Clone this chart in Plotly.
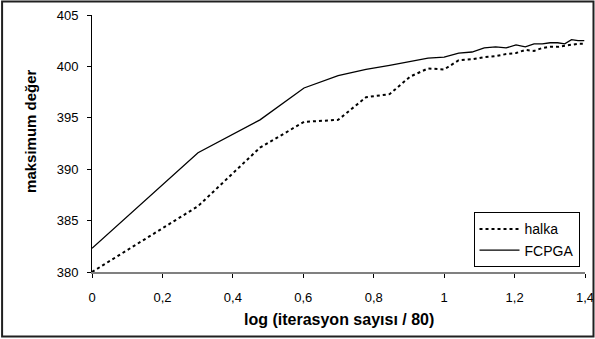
import math
import plotly.graph_objects as go

# iteration index k = 1..25, x = log10(k)
iter_index = list(range(1, 26))
x_vals = [math.log10(k) for k in iter_index]

halka = [380.0, 386.4, 392.1, 394.6, 394.8, 397.0, 397.3, 399.0, 399.8, 399.7,
         400.6, 400.7, 400.9, 401.0, 401.2, 401.3, 401.6, 401.5, 401.8, 401.9,
         401.9, 402.0, 402.1, 402.2, 402.2]
fcpga = [382.3, 391.6, 394.8, 397.9, 399.1, 399.7, 400.1, 400.5, 400.8, 400.9,
         401.3, 401.4, 401.8, 401.9, 401.8, 402.1, 401.9, 402.2, 402.2, 402.3,
         402.3, 402.2, 402.6, 402.5, 402.5]

x_ticks = [0, 0.2, 0.4, 0.6, 0.8, 1.0, 1.2, 1.4]
x_ticklabels = ["0", "0,2", "0,4", "0,6", "0,8", "1", "1,2", "1,4"]
y_ticks = [380, 385, 390, 395, 400, 405]
y_ticklabels = ["380", "385", "390", "395", "400", "405"]

FONT = "Liberation Sans, Arial, sans-serif"

fig = go.Figure()
fig.add_trace(go.Scatter(x=x_vals, y=halka, mode="lines", name="halka",
                         line=dict(color="black", width=2, dash="dot")))
fig.add_trace(go.Scatter(x=x_vals, y=fcpga, mode="lines", name="FCPGA",
                         line=dict(color="black", width=1.3)))

L, R, T, B = 91.5, 10, 15, 66.7
W, H = 595, 339
pw = W - L - R
ph = H - T - B

def px(xp):
    return (xp - L) / pw

def py(yp):
    return (H - B - yp) / ph

fig.update_layout(
    width=W, height=H, autosize=False,
    margin=dict(l=L, r=R, t=T, b=B, pad=0, autoexpand=False),
    paper_bgcolor="white", plot_bgcolor="white",
    font=dict(family=FONT, color="black", size=13),
    showlegend=True,
    legend=dict(x=px(579.5), y=py(267.7), xanchor="right", yanchor="bottom",
                bgcolor="white", bordercolor="black", borderwidth=1,
                font=dict(size=14, family=FONT), itemwidth=40,
                tracegroupgap=0),
    xaxis=dict(range=[0, 1.4], tickvals=x_ticks, ticktext=x_ticklabels,
               showgrid=False, zeroline=False, showline=True, automargin=False,
               linecolor="#808080", linewidth=2, ticks="outside",
               ticklen=4, tickcolor="black", tickwidth=1,
               tickfont=dict(size=13), ticklabelstandoff=8,
               ticklabeloverflow="allow"),
    yaxis=dict(range=[380, 405], tickvals=y_ticks, ticktext=y_ticklabels,
               showgrid=False, zeroline=False, showline=True, automargin=False,
               linecolor="black", linewidth=1, ticks="outside",
               ticklen=4, tickcolor="black", tickwidth=1,
               tickfont=dict(size=13), ticklabelstandoff=6),
    annotations=[
        dict(text="<b>log (iterasyon sayısı / 80)</b>", xref="paper", yref="paper",
             x=0.5, y=py(320), xanchor="center", yanchor="middle",
             showarrow=False, font=dict(size=16, family=FONT)),
        dict(text="<b>maksimum değer</b>", xref="paper", yref="paper",
             x=px(30), y=py(131.5), xanchor="center", yanchor="middle",
             textangle=-90, showarrow=False, font=dict(size=15, family=FONT)),
    ],
    shapes=[
        dict(type="rect", xref="paper", yref="paper",
             x0=px(1.5), x1=px(593.5), y0=py(337), y1=py(1.5),
             line=dict(color="#202020", width=2), fillcolor="rgba(0,0,0,0)",
             layer="above"),
    ],
)

fig.write_html(
    "out.html",
    config={"responsive": False, "displayModeBar": False},
    post_script="document.body.style.margin='0';document.body.style.overflow='hidden';",
)
